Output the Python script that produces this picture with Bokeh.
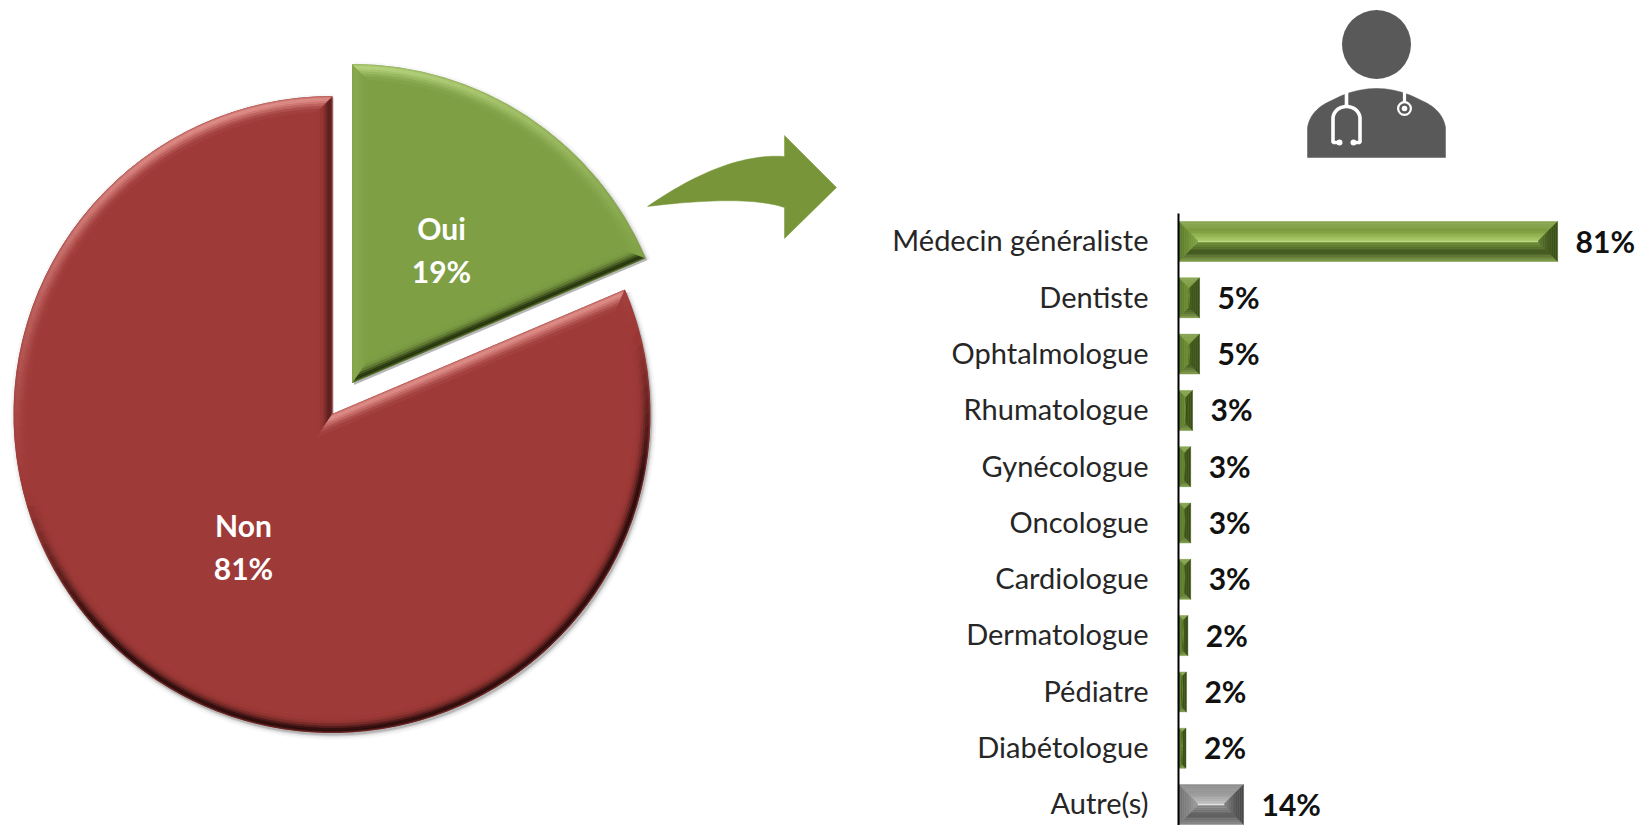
import numpy as np
from bokeh.core.properties import value
from bokeh.embed import file_html
from bokeh.layouts import column, row
from bokeh.models import FixedTicker, Range1d
from bokeh.plotting import figure
from bokeh.resources import INLINE

# ---------- data ----------
pie_names = ["Oui", "Non"]
pie_shares = [18.6, 81.4]
pie_labels = ["19%", "81%"]
bar_categories = ["Médecin généraliste", "Dentiste", "Ophtalmologue", "Rhumatologue",
                  "Gynécologue", "Oncologue", "Cardiologue", "Dermatologue",
                  "Pédiatre", "Diabétologue", "Autre(s)"]
bar_values = [81.0, 4.5, 4.5, 3.0, 2.6, 2.6, 2.6, 2.0, 1.7, 1.6, 13.9]
bar_labels = ["81%", "5%", "5%", "3%", "3%", "3%", "3%", "2%", "2%", "2%", "14%"]

# ---------- styles ----------
FONT = "Lato"
RED, RED_L, RED_D = "#9e3a38", "#e08f8a", "#2a0c0b"
GRN, GRN_L, GRN_D = "#7f9f45", "#b9d680", "#26340f"
ARROW = "#789639"
ICON = "#595959"


def rgb(h):
    return np.array([int(h[i:i + 2], 16) for i in (1, 3, 5)], float)


def mix(a, b, w):
    c = rgb(a) * (1 - w) + rgb(b) * w
    return "#%02x%02x%02x" % tuple(int(round(v)) for v in c)


def ramp(stops, w):
    p = w * (len(stops) - 1)
    i = min(int(p), len(stops) - 2)
    return mix(stops[i], stops[i + 1], p - i)


def shade(base, light, dark, normal_deg, intensity):
    lit = np.cos(np.radians(normal_deg - 105))
    if lit >= 0:
        return mix(base, light, min(1, lit ** 1.3) * intensity)
    return mix(base, dark, min(1, -lit * 2.2) * intensity ** 1.6)


BANDS = [0, 1.5, 3, 5, 7, 9.5, 12, 15]
PROFILE = [0.7, 1.0, 0.95, 0.75, 0.5, 0.25, 0.08]


def bevel(cx, cy, r, a0, a1, base, light, dark):
    """Bevel polygons of a pie slice running anticlockwise from a0 to a1 (degrees)."""
    xs, ys, cs = [], [], []
    half = np.radians(a1 - a0) / 2
    mid = np.radians(a0 + a1) / 2
    bis = np.array([np.cos(mid), np.sin(mid)])
    apex = np.array([cx, cy], float)

    def miter(t):
        return apex + bis * t / np.sin(half)

    for b in range(len(PROFILE)):
        t1, t2, amt = BANDS[b], BANDS[b + 1], PROFILE[b]
        # straight edges
        for a, sgn in ((a0, 1), (a1, -1)):
            ar = np.radians(a)
            along = np.array([np.cos(ar), np.sin(ar)])
            inward = sgn * np.array([-np.sin(ar), np.cos(ar)])
            o1 = apex + along * np.sqrt((r - t1) ** 2 - t1 ** 2) + inward * t1
            o2 = apex + along * np.sqrt((r - t2) ** 2 - t2 ** 2) + inward * t2
            m1, m2 = miter(t1), miter(t2)
            q = np.array([m1, o1, o2, m2])
            xs.append(q[:, 0].tolist())
            ys.append(q[:, 1].tolist())
            cs.append(shade(base, light, dark, a - sgn * 90, amt))
        # outer arc
        r1, r2 = r - t1, r - t2
        d1, d2 = np.degrees(np.arcsin(t1 / r1)), np.degrees(np.arcsin(t2 / r2))
        n = int(np.ceil((a1 - a0) / 2.5))
        for i in range(n):
            u, v = i / n, (i + 1) / n
            th = [a0 + d1 + (a1 - a0 - 2 * d1) * u, a0 + d1 + (a1 - a0 - 2 * d1) * v,
                  a0 + d2 + (a1 - a0 - 2 * d2) * v, a0 + d2 + (a1 - a0 - 2 * d2) * u]
            rr = [r1, r1, r2, r2]
            xs.append([cx + q * np.cos(np.radians(w)) for q, w in zip(rr, th)])
            ys.append([cy + q * np.sin(np.radians(w)) for q, w in zip(rr, th)])
            cs.append(shade(base, light, dark, (th[0] + th[1]) / 2, amt))
    return xs, ys, cs


H = 825  # reference height, used to flip pixel rows into upward coordinates
SPLIT = 845   # column between the pie panel and the bar panel
AXIS_X = 1178
TOP_BARS = 213
RIGHT = 1642

# ---------- pie figure ----------
pie = figure(width=SPLIT, height=H, x_range=Range1d(0, SPLIT), y_range=Range1d(0, H),
             toolbar_location=None, output_backend="svg", min_border=0)
pie.axis.visible = False
pie.grid.visible = False
pie.outline_line_color = None

R = 318
oui_angle = 360 * pie_shares[0] / sum(pie_shares)
slices = {
    "Non": dict(cx=331.5, cy=H - 414, a0=90, a1=450 - oui_angle, c=(RED, RED_L, RED_D)),
    "Oui": dict(cx=352, cy=H - 382, a0=90 - oui_angle, a1=90, c=(GRN, GRN_L, GRN_D)),
}
for name in ["Non", "Oui"]:
    s = slices[name]
    for grow, alpha in ((5, 0.03), (3, 0.05), (1.5, 0.09), (0.5, 0.14)):
        pie.wedge(x=[s["cx"] + 1.5], y=[s["cy"] - 2.5], radius=R + grow,
                  start_angle=s["a0"], end_angle=s["a1"], start_angle_units="deg",
                  end_angle_units="deg", fill_color="black", fill_alpha=alpha, line_color=None)
for name in ["Non", "Oui"]:
    s = slices[name]
    pie.wedge(x=[s["cx"]], y=[s["cy"]], radius=R, start_angle=s["a0"], end_angle=s["a1"],
              start_angle_units="deg", end_angle_units="deg",
              fill_color=s["c"][0], line_color=s["c"][0])
    bx, by, bc = bevel(s["cx"], s["cy"], R, s["a0"], s["a1"], *s["c"])
    pie.patches(bx, by, fill_color=bc, line_color=bc, line_width=0.6)

label_pos = {"Oui": (441, 227.5, 270.5), "Non": (243, 524, 567)}
for name, lab in zip(pie_names, pie_labels):
    lx, y1, y2 = label_pos[name]
    pie.text(x=[lx, lx], y=[H - y1, H - y2], text=[name, lab], text_color="white",
             text_font=value(FONT), text_font_style="bold", text_font_size="30px",
             text_align="center", text_baseline="middle")


def bez(p0, p1, p2, n=30):
    t = np.linspace(0, 1, n)[:, None]
    return (1 - t) ** 2 * np.array(p0) + 2 * t * (1 - t) * np.array(p1) + t ** 2 * np.array(p2)


top_curve = bez((647, 206), (725, 152), (784, 156))
low_curve = bez((784, 207), (745, 194), (647, 206))
arrow = np.vstack([top_curve, [(784, 135), (836, 187), (784, 238)], low_curve])
pie.patch(arrow[:, 0], H - arrow[:, 1], fill_color=ARROW, line_color=ARROW, line_width=0.5)

# ---------- doctor icon (its frame lines up with the frame of the bars below) ----------
icon = figure(width=RIGHT - SPLIT, height=TOP_BARS, x_range=Range1d(AXIS_X, RIGHT),
              y_range=Range1d(H - TOP_BARS, H), toolbar_location=None, output_backend="svg",
              min_border_left=AXIS_X - SPLIT, min_border_right=0, min_border_top=0,
              min_border_bottom=0)
icon.axis.visible = False
icon.grid.visible = False
icon.outline_line_color = None

icon.circle(x=[1376], y=[H - 44], radius=34.5, fill_color=ICON, line_color=None)
sh_l = bez((1307, 127), (1310, 109), (1331, 100), 20)
top_b = bez((1331, 100), (1376, 76), (1421, 100), 30)
sh_r = bez((1421, 100), (1442, 109), (1445, 127), 20)
body = np.vstack([[(1307, 157)], sh_l, top_b, sh_r, [(1445, 157)]])
icon.patch(body[:, 0], H - body[:, 1], fill_color=ICON, line_color=ICON, line_width=0.5)
# stethoscope
tt = np.radians(np.linspace(180, 0, 30))
ax = np.r_[1339, 1332.5, 1346 + 13.5 * np.cos(tt), 1359.5, 1353]
ay = np.r_[142, 142, 118 - 12 * np.sin(tt), 142, 142]
icon.line(ax, H - ay, line_color="white", line_width=3.6)
icon.line([1346, 1346], [H - 90, H - 106], line_color="white", line_width=3.6)
icon.line([1404, 1404], [H - 90, H - 102], line_color="white", line_width=3.2)
icon.circle(x=[1339, 1353], y=[H - 142, H - 142], radius=3, fill_color="white", line_color=None)
icon.circle(x=[1404], y=[H - 108], radius=7.5, fill_color="white", line_color=None)
icon.circle(x=[1404], y=[H - 108], radius=5.3, fill_color=ICON, line_color=None)
icon.circle(x=[1404], y=[H - 108], radius=2.8, fill_color="white", line_color=None)

# ---------- bars ----------
PX_X = 4.68   # px per percentage point
PX_Y = 56.3   # px per category row
BAR = 40 / PX_Y
LABEL_SHIFT = 0.03  # tick labels sit slightly above the bar centres
idx = list(range(len(bar_categories)))
y_start = (TOP_BARS - 241) / PX_Y
y_end = (H - 241) / PX_Y

bars = figure(width=RIGHT - SPLIT, height=H - TOP_BARS, x_range=Range1d(0, (RIGHT - AXIS_X) / PX_X),
              y_range=Range1d(y_end, y_start), toolbar_location=None, output_backend="svg",
              min_border_left=AXIS_X - SPLIT, min_border_right=0, min_border_top=0,
              min_border_bottom=0)
bars.xaxis.visible = False
bars.grid.visible = False
bars.outline_line_color = None
ya = bars.yaxis[0]
tick_pos = [round(i - LABEL_SHIFT, 2) for i in idx]
ya.ticker = FixedTicker(ticks=tick_pos)
ya.major_label_overrides = {t: c for t, c in zip(tick_pos, bar_categories)}
ya.major_tick_line_color = None
ya.minor_tick_line_color = None
ya.axis_line_color = "black"
ya.axis_line_width = 2
ya.major_label_standoff = 24
ya.major_label_text_font = FONT
ya.major_label_text_font_size = "29px"
ya.major_label_text_color = "#262626"

G_FACE, S_FACE = "#bcd97f", "#e2e2e2"
GREEN_R = dict(top=["#8aa85a", "#7d9c3e", "#a9c968"], bottom=["#83a04f", "#40561f", "#6d8c39"],
               left=["#55752a", "#6f8f36", "#82a247"], right=["#3a4e1a", "#44591f", "#5a7530"])
GREY_R = dict(top=["#8f8f8f", "#9a9a9a", "#bdbdbd"], bottom=["#8a8a8a", "#5e5e5e", "#8c8c8c"],
              left=["#6f6f6f", "#858585", "#9a9a9a"], right=["#454545", "#5a5a5a", "#808080"])
DEPTH = 19.0
N = 10

face = [S_FACE if c == "Autre(s)" else G_FACE for c in bar_categories]
bars.hbar(y=idx, left=0, right=bar_values, height=BAR, fill_color=face, line_color=None)

px, py, pc = [], [], []
for i, v in zip(idx, bar_values):
    rp = GREY_R if bar_categories[i] == "Autre(s)" else GREEN_R
    x0, x1, y0, y1 = 0.0, v, i - BAR / 2, i + BAR / 2
    for k in range(N):
        t1, t2 = DEPTH * k / N, DEPTH * (k + 1) / N
        ox1, ox2 = min(t1 / PX_X, v / 2), min(t2 / PX_X, v / 2)
        oy1, oy2 = min(t1 / PX_Y, BAR / 2), min(t2 / PX_Y, BAR / 2)
        a, b, c, d = x0 + ox1, x1 - ox1, y0 + oy1, y1 - oy1
        e, f, g, h = x0 + ox2, x1 - ox2, y0 + oy2, y1 - oy2
        w = (k + 0.5) / N
        px += [[a, b, f, e], [a, b, f, e], [a, e, e, a], [b, f, f, b]]
        py += [[c, c, g, g], [d, d, h, h], [c, g, h, d], [c, g, h, d]]
        pc += [ramp(rp["top"], w), ramp(rp["bottom"], w), ramp(rp["left"], w), ramp(rp["right"], w)]
bars.patches(px, py, fill_color=pc, line_color=pc, line_width=0.4)

bars.text(x=bar_values, y=idx, text=bar_labels, x_offset=18, y_offset=-1, text_baseline="middle",
          text_font=value(FONT), text_font_style="bold", text_font_size="30px",
          text_color="#111111")

layout = row(pie, column(icon, bars, spacing=0), spacing=0)
open("out.html", "w").write(file_html(layout, INLINE))
